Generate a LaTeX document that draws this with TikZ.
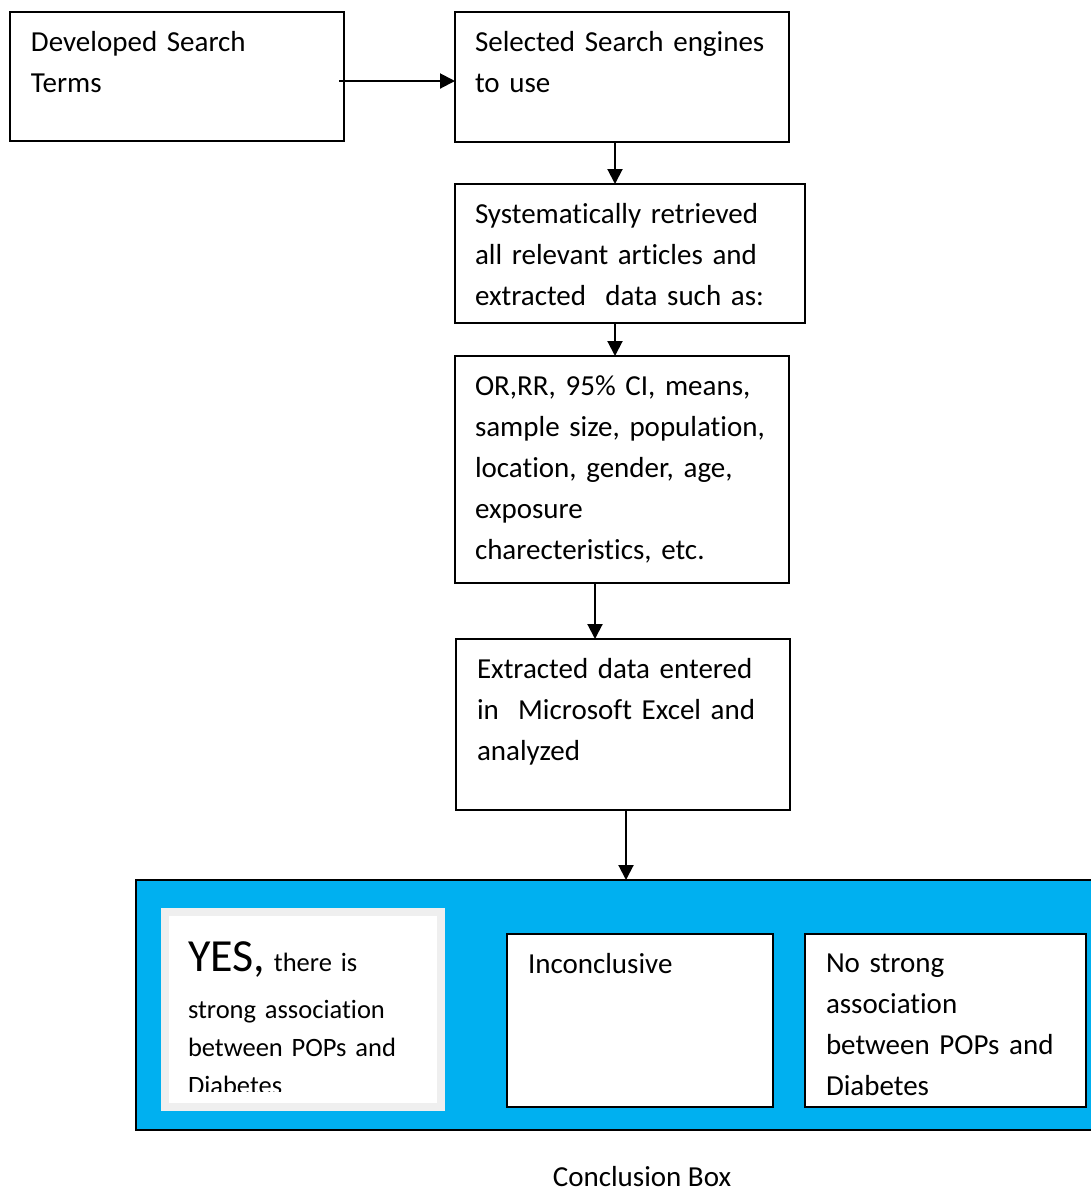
\documentclass[tikz,border=0pt]{standalone}
\usepackage{fontspec}
\setmainfont{Carlito}[Ligatures=NoCommon]
\usepackage{xcolor}
\usetikzlibrary{arrows.meta}
\definecolor{conclblue}{HTML}{00B0F0}
\definecolor{framegray}{HTML}{EFEFEF}
\tikzstyle{stage} = [rectangle, draw, fill=white, anchor=north west, align=left, outer sep=0pt, inner ysep=0pt, inner xsep=10.5pt, font=\fontsize{14.5}{20.5}\selectfont]
\tikzstyle{panel} = [rectangle, draw, fill=conclblue, anchor=north west, outer sep=0pt, inner sep=0pt]
\tikzstyle{verdict} = [rectangle, draw=framegray, line width=4pt, fill=white, anchor=north west, align=left, outer sep=0pt, inner ysep=0pt, inner xsep=11.5pt, font=\fontsize{13.25}{19}\selectfont]

\begin{document}
\begin{tikzpicture}[x=0.5pt,y=-0.5pt,->,>={Triangle[length=7.5pt,width=7.5pt]},line width=1pt]
  \useasboundingbox (0,0) rectangle (1091,1191);
  \node[stage, text width=146pt, text height=19.5pt, text depth=45pt] (dev) at (10,12) {Developed Search\\ Terms};
  \node[stage, inner xsep=10pt, text width=147pt, text height=19.5pt, text depth=45.5pt] (eng) at (455,12) {Selected Search engines\\ to use};
  \node[stage, inner xsep=10pt, text width=155pt, text height=19.5pt, text depth=50pt] (ret) at (455,184) {Systematically retrieved\\ all relevant articles and\\ extracted\ \ data such as:};
  \node[stage, inner xsep=10pt, text width=147pt, text height=19.5pt, text depth=94pt] (dat) at (455,356) {OR,RR, 95\% CI, means,\\ sample size, population,\\ location, gender, age,\\ exposure\\ charecteristics, etc.};
  \node[stage, text width=146pt, text height=19.5pt, text depth=66pt] (xls) at (456,639) {Extracted data entered\\ in\ \ Microsoft Excel and\\ analyzed};
  \node[panel, minimum width=482pt, minimum height=125pt] (concl) at (136,880) {};
  \node[verdict, text width=115pt, text height=29.5pt, text depth=68pt] (yes) at (165,912) {{\fontsize{23}{23}\selectfont YES,} there is\\[4.5pt] strong association\\ between POPs and\\ Diabetes};
  \fill[white] (169,1092) rectangle (437,1103);
  \node[stage, text width=112pt, text height=19.5pt, text depth=67pt] (inc) at (507,934) {Inconclusive};
  \node[stage, text width=119.5pt, text height=19pt, text depth=67.5pt] (nos) at (805,934) {No strong\\ association\\ between POPs and\\ Diabetes};
  \node[font=\fontsize{14.5}{20.5}\selectfont, anchor=base, inner sep=0pt] (cap) at (642,1186) {Conclusion Box};

  \coordinate (devout) at (339,81);
  \draw (devout) -- (devout -| eng.west);
  \draw (eng.south) ++(-3.5pt,0pt) coordinate (s1) -- (s1 |- ret.north);
  \draw (ret.south) ++(-7.5pt,0pt) coordinate (s2) -- (s2 |- dat.north);
  \draw (dat.south) ++(-13.5pt,0pt) coordinate (s3) -- (s3 |- xls.north);
  \draw (xls.south) ++(1.5pt,0pt) coordinate (s4) -- (s4 |- concl.north);
\end{tikzpicture}
\end{document}
